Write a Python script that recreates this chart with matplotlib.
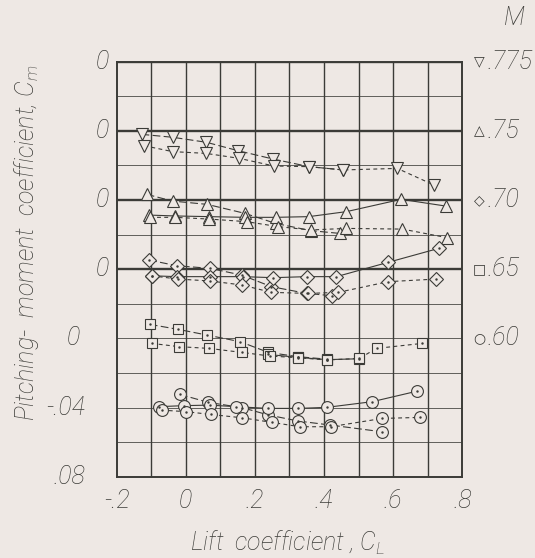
import numpy as np
import matplotlib.pyplot as plt

plt.rcParams['font.family'] = ['Roboto', 'DejaVu Sans']
plt.rcParams['mathtext.fontset'] = 'custom'
plt.rcParams['mathtext.rm'] = 'Roboto:light'
plt.rcParams['mathtext.it'] = 'Roboto:italic:light'

# Mach numbers and where each one's zero line sits on the stacked scale
mach_labels = ['.775', '.75', '.70', '.65', '.60']
mach_offsets = [0.16, 0.12, 0.08, 0.04, 0.0]
mach_markers = ['v', '^', 'D', 's', 'o']

# M = .775
cl_775_a = [-0.128, -0.038, 0.060, 0.152, 0.253, 0.357, 0.456]
cm_775_a = [-0.0420, -0.0437, -0.0466, -0.0515, -0.0563, -0.0607, -0.0626]
cl_775_c = [-0.120, -0.038, 0.058, 0.155, 0.255, 0.357, 0.456, 0.612, 0.718]
cm_775_c = [-0.0486, -0.0520, -0.0530, -0.0559, -0.0603, -0.0607, -0.0626, -0.0617, -0.0713]

# M = .75
cl_75_a = [-0.113, -0.038, 0.062, 0.171, 0.260, 0.362, 0.446]
cm_75_a = [-0.0367, -0.0406, -0.0425, -0.0477, -0.0535, -0.0577, -0.0593]
cl_75_b = [-0.106, -0.031, 0.068, 0.171, 0.260, 0.356, 0.465, 0.623, 0.753]
cm_75_b = [-0.0487, -0.0492, -0.0496, -0.0500, -0.0500, -0.0496, -0.0467, -0.0396, -0.0435]
cl_75_c = [-0.104, -0.031, 0.068, 0.176, 0.268, 0.362, 0.465, 0.627, 0.757]
cm_75_c = [-0.0500, -0.0500, -0.0510, -0.0525, -0.0554, -0.0573, -0.0564, -0.0568, -0.0618]

# M = .70
cl_70_a = [-0.106, -0.026, 0.070, 0.162, 0.248, 0.350, 0.422]
cm_70_a = [-0.0347, -0.0380, -0.0395, -0.0434, -0.0501, -0.0540, -0.0553]
cl_70_b = [-0.099, -0.026, 0.070, 0.166, 0.253, 0.350, 0.436, 0.586, 0.733]
cm_70_b = [-0.0438, -0.0443, -0.0443, -0.0443, -0.0449, -0.0443, -0.0443, -0.0360, -0.0279]
cl_70_c = [-0.099, -0.022, 0.070, 0.162, 0.248, 0.354, 0.441, 0.586, 0.724]
cm_70_c = [-0.0438, -0.0457, -0.0468, -0.0491, -0.0534, -0.0540, -0.0534, -0.0472, -0.0457]

# M = .65
cl_65_a = [-0.104, -0.022, 0.062, 0.157, 0.239, 0.325, 0.408]
cm_65_a = [-0.0319, -0.0348, -0.0381, -0.0419, -0.0481, -0.0506, -0.0520]
cl_65_b = [0.239, 0.325, 0.408, 0.502]
cm_65_b = [-0.0493, -0.0510, -0.0523, -0.0518]
cl_65_c = [-0.099, -0.019, 0.067, 0.162, 0.243, 0.325, 0.408, 0.502, 0.552, 0.685]
cm_65_c = [-0.0429, -0.0448, -0.0458, -0.0481, -0.0502, -0.0512, -0.0525, -0.0516, -0.0458, -0.0429]

# M = .60
cl_60_a = [-0.017, 0.065, 0.164, 0.239, 0.325, 0.417, 0.567]
cm_60_a = [-0.0324, -0.0370, -0.0401, -0.0443, -0.0478, -0.0501, -0.0540]
cl_60_b = [-0.077, -0.005, 0.070, 0.145, 0.239, 0.325, 0.408, 0.540, 0.670]
cm_60_b = [-0.0395, -0.0389, -0.0386, -0.0395, -0.0405, -0.0405, -0.0399, -0.0366, -0.0305]
cl_60_c = [-0.070, 0.002, 0.072, 0.162, 0.250, 0.330, 0.419, 0.569, 0.678]
cm_60_c = [-0.0415, -0.0424, -0.0440, -0.0459, -0.0486, -0.0511, -0.0511, -0.0463, -0.0457]

curves = [
    (cl_775_a, cm_775_a, 0, 'long'), (cl_775_c, cm_775_c, 0, 'short'),
    (cl_75_a, cm_75_a, 1, 'long'), (cl_75_b, cm_75_b, 1, 'solid'), (cl_75_c, cm_75_c, 1, 'short'),
    (cl_70_a, cm_70_a, 2, 'long'), (cl_70_b, cm_70_b, 2, 'solid'), (cl_70_c, cm_70_c, 2, 'short'),
    (cl_65_a, cm_65_a, 3, 'long'), (cl_65_b, cm_65_b, 3, 'solid'), (cl_65_c, cm_65_c, 3, 'short'),
    (cl_60_a, cm_60_a, 4, 'long'), (cl_60_b, cm_60_b, 4, 'solid'), (cl_60_c, cm_60_c, 4, 'short'),
]

ink = '#3b3b37'
paper = '#eee8e4'
dash_styles = {'long': (0, (7, 3)), 'short': (0, (3.5, 3)), 'solid': '-'}
marker_sizes = {'v': 8, '^': 8, 'D': 7.5, 's': 7, 'o': 8.5}

fig = plt.figure(figsize=(5.35, 5.58), dpi=100, facecolor=paper)
ax = fig.add_axes([0.218, 0.1457, 0.646, 0.7437], facecolor=paper)

ax.set_xlim(-0.2, 0.8)
ax.set_ylim(-0.08, 0.16)

# grid
for x in np.arange(-0.1, 0.8, 0.1):
    ax.axvline(x, color=ink, lw=1.0, zorder=1)
for y in np.arange(-0.06, 0.16, 0.02):
    ax.axhline(y, color=ink, lw=0.7, alpha=0.8, zorder=1)
for y in mach_offsets[:4]:
    ax.axhline(y, color=ink, lw=1.7, zorder=1)

for cl, cm, i, style in curves:
    off = mach_offsets[i]
    mk = mach_markers[i]
    y = np.array(cm) + off
    ax.plot(cl, y, color=ink, lw=0.8, ls=dash_styles[style], zorder=2)
    ax.plot(cl, y, ls='none', marker=mk, ms=marker_sizes[mk], mfc=paper,
            mec=ink, mew=0.8, zorder=3)
    if mk in ('D', 's', 'o'):
        ax.plot(cl, y, ls='none', marker='.', ms=1.5, color=ink, zorder=4)

for s in ax.spines.values():
    s.set_color(ink)
    s.set_linewidth(1.4)

ax.set_xticks([])
ax.set_yticks([])

txt = dict(color=ink, fontsize=18, fontstyle='italic', fontweight='light')

# x tick labels
for v, lab in zip([-0.2, 0, 0.2, 0.4, 0.6, 0.8], ['-.2', '0', '.2', '.4', '.6', '.8']):
    ax.text(v, -0.087, lab, ha='center', va='top', **txt)

# y tick labels
for v in mach_offsets[:4]:
    ax.text(-0.223, v, '0', ha='right', va='center', **txt)
ax.text(-0.305, 0.0, '0', ha='right', va='center', **txt)
ax.text(-0.29, -0.04, '-.04', ha='right', va='center', **txt)
ax.text(-0.29, -0.08, '.08', ha='right', va='center', **txt)

# Mach key on the right
sym = ['\u25bd', '\u25b3', '\u25c7', '\u25a1', '\u25cb']
for v, lab, s in zip(mach_offsets, mach_labels, sym):
    ax.text(0.85, v, s, ha='center', va='center', color=ink, fontsize=10,
            family='DejaVu Sans')
    ax.text(0.872, v, lab, ha='left', va='center', **txt)
fig.text(0.962, 0.967, 'M', ha='center', va='center', **txt)

fig.text(0.537, 0.027, 'Lift  coefficient , $C_L$', ha='center', va='center', **txt)
fig.text(0.05, 0.565, 'Pitching-  moment  coefficient, $C_m$', rotation=90,
         ha='center', va='center', **txt)

fig.savefig('out.png', dpi=100, facecolor=paper)
